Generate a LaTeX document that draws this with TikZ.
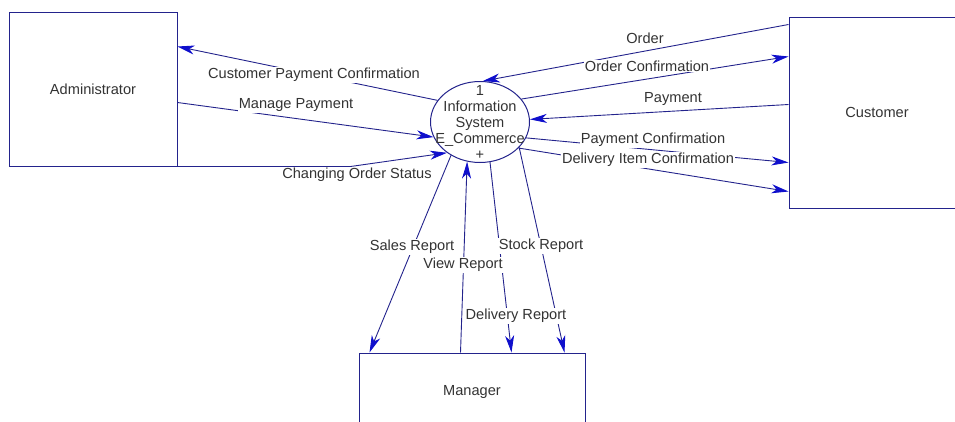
\documentclass[tikz,border=0pt]{standalone}
\usepackage{fontspec}
\setmainfont{Liberation Sans}
\usetikzlibrary{arrows.meta,shapes.geometric}
\definecolor{flowline}{HTML}{23238C}
\definecolor{tipblue}{HTML}{0F0FCC}
\definecolor{txtgray}{HTML}{333333}
\begin{document}
\begin{tikzpicture}[x=1pt, y=-1pt,
    box/.style = {draw=flowline, line width=1pt, text=txtgray, font=\fontsize{14.6}{17}\selectfont},
    flow/.style = {draw=flowline, line width=0.9pt, -{Stealth[length=17pt, width=9pt, inset=5pt, color=tipblue]}},
    lbl/.style = {fill=white, inner sep=1pt, text=txtgray, font=\fontsize{14.6}{17}\selectfont}]
    \useasboundingbox (0,0) rectangle (955,421);
    % external entities and the process
    \node[box, minimum width=168pt, minimum height=154pt] (admin) at (93,89) {Administrator};
    \node[box, minimum width=176pt, minimum height=191pt] (customer) at (877,112.5) {Customer};
    \node[box, minimum width=226pt, minimum height=78pt] (manager) at (472,392) {Manager};
    \node[box, ellipse, minimum width=99pt, minimum height=81pt, inner sep=0pt,
        label={[align=center, text=txtgray, inner sep=0pt, font=\fontsize{14.6}{16}\selectfont]center:{1\\Information\\System\\E\_Commerce\\+}}] (proc) at (480,122) {};
    % data flows
    \draw[flow] (proc.153) -- ([yshift=-35pt]admin.north east);
    \draw[flow] ([yshift=-91pt]admin.north east) -- (proc.198);
    \draw[flow] (admin.south east) -- ++(173,0) -- (proc.223);
    \draw[flow] ([yshift=-8pt]customer.north west) -- (proc.86);
    \draw[flow] (proc.29) -- ([yshift=-40pt]customer.north west);
    \draw[flow] ([yshift=-88pt]customer.north west) -- (proc.3);
    \draw[flow] (proc.-19) -- ([yshift=-146pt]customer.north west);
    \draw[flow] (proc.-34) -- ([yshift=-175pt]customer.north west);
    \draw[flow] (proc.229) -- ([xshift=11pt]manager.north west);
    \draw[flow] ([xshift=102pt]manager.north west) -- (proc.252);
    \draw[flow] (proc.284) -- ([xshift=153pt]manager.north west);
    \draw[flow] (proc.327) -- ([xshift=206pt]manager.north west);
    % flow labels
    \foreach \i/\x/\y/\t in {1/314/75/Customer Payment Confirmation, 2/296/105/Manage Payment,
        3/357/175/Changing Order Status, 4/645/38/Order, 5/647/66/Order Confirmation,
        6/673/99/Payment, 7/653/140/Payment Confirmation, 8/648/160/Delivery Item Confirmation,
        9/412/247/Sales Report, 10/463/265/View Report, 11/541/246/Stock Report,
        12/516/316/Delivery Report} {
        \node[lbl] (lab\i) at (\x,\y) {\t};
    }
\end{tikzpicture}
\end{document}
